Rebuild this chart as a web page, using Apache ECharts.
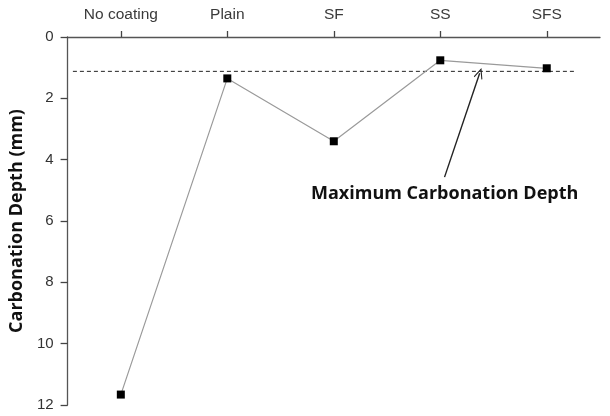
<!DOCTYPE html>
<html><head><meta charset="utf-8">
<script src="https://cdn.jsdelivr.net/npm/echarts@6/dist/echarts.min.js"></script>
<style>html,body{margin:0;padding:0;background:#fff}#c{width:610px;height:416px}</style>
</head><body><div id="c"></div>
<script>
const categories = ['No coating', 'Plain', 'SF', 'SS', 'SFS'];
const depth = [11.66, 1.35, 3.40, 0.76, 1.02];
const maxDepth = 1.12;
const maxLineX = [0.05, 4.76];
const arrowFrom = [3.54, 4.57];
const arrowTo = [3.87, 1.18];
const yTicks = [0, 2, 4, 6, 8, 10, 12];

const chart = echarts.init(document.getElementById('c'));
chart.setOption({
  animation: false,
  grid: { left: 67, right: 10, top: 37, bottom: 11 },
  xAxis: [{
    type: 'category', data: categories, position: 'top',
    axisLine: { lineStyle: { color: '#555', width: 1.3 } },
    axisTick: { show: true, alignWithLabel: true, length: 6, lineStyle: { color: '#444', width: 1.3 } },
    axisLabel: { color: '#3a3a3a', fontFamily: 'Liberation Sans', fontSize: 15.5, margin: 14 }
  }, {
    type: 'value', min: 0, max: 5, show: false
  }],
  yAxis: {
    type: 'value', inverse: true, min: 0, max: 12, interval: 2,
    name: 'Carbonation Depth (mm)', nameLocation: 'middle', nameGap: 29,
    nameTextStyle: { color: '#111', fontFamily: 'Open Sans', fontWeight: 'bold', fontSize: 18 },
    axisLine: { show: true, lineStyle: { color: '#555', width: 1.3 } },
    axisTick: { show: true, length: 7, lineStyle: { color: '#444', width: 1.3 } },
    splitLine: { show: false },
    axisLabel: { color: '#333', fontFamily: 'Liberation Sans', fontSize: 15, margin: 14,
      formatter: v => yTicks.includes(v) ? String(v) : '' }
  },
  series: [{
    type: 'line', xAxisIndex: 0, data: depth,
    symbol: 'rect', symbolSize: 8,
    itemStyle: { color: '#000' },
    lineStyle: { color: '#9a9a9a', width: 1.2 },
    z: 3
  }, {
    type: 'line', xAxisIndex: 1,
    data: [[maxLineX[0], maxDepth], [maxLineX[1], maxDepth]],
    symbol: 'none',
    lineStyle: { color: '#222', width: 1, type: [4, 3] },
    markLine: {
      silent: true,
      symbol: ['none', 'path://M0,10 L5,0 L10,10 L9,10.6 L5,2.6 L1,10.6 Z'],
      symbolSize: [9, 11],
      label: { show: false },
      lineStyle: { color: '#222', width: 1.4, type: 'solid' },
      data: [[{ coord: arrowFrom }, { coord: arrowTo }]]
    },
    z: 2
  }],
  graphic: [{
    type: 'text', x: 311, y: 194,
    style: { text: 'Maximum Carbonation Depth', fill: '#111', fontFamily: 'Open Sans', fontWeight: 'bold', fontSize: 18, verticalAlign: 'middle' }
  }]
});
</script></body></html>
